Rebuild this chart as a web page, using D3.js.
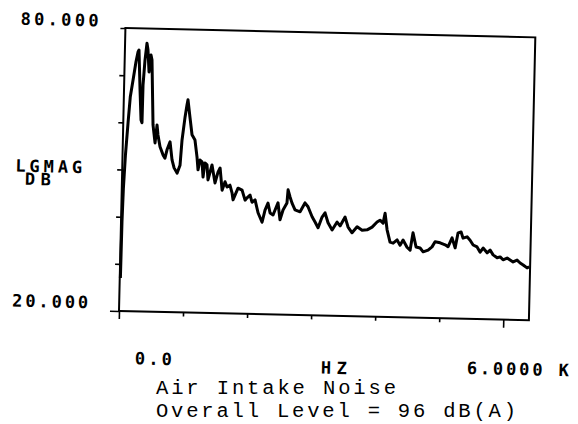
<!DOCTYPE html>
<html>
<head>
<meta charset="utf-8">
<script src="https://cdn.jsdelivr.net/npm/d3@7"></script>
<style>
  html, body { margin: 0; padding: 0; background: #fff; }
  svg { display: block; }
</style>
</head>
<body>
<script>
// ---- data ----
const freqHz = [10,15,25,45,75,100,137,177,205,220,250,276,292,295,317,342,360,384,409,426,465,503,528,546,582,632,663,692,737,774,809,857,901,923,962,988,1002,1040,1077,1125,1163,1183,1211,1243,1264,1289,1322,1342,1400,1453,1496,1527,1566,1609,1642,1687,1722,1740,1770,1814,1878,1928,1958,2004,2037,2084,2135,2201,2243,2287,2323,2370,2443,2480,2524,2583,2596,2629,2662,2711,2791,2864,2913,2980,3028,3077,3136,3181,3231,3297,3372,3420,3495,3545,3609,3686,3765,3843,3920,3996,4041,4090,4118,4155,4205,4254,4315,4363,4408,4472,4521,4561,4613,4677,4725,4802,4862,4908,4987,5066,5112,5172,5223,5264,5311,5343,5406,5454,5503,5565,5615,5660,5724,5770,5818,5882,5929,5975,6038,6085,6133,6194,6243,6291,6353,6385];
const levelDb = [27.0,39.0,46.0,53.0,60.0,65.4,69.0,72.9,75.0,75.4,67.0,60.6,60.0,68.0,73.3,76.9,75.5,70.8,74.4,73.4,59.6,55.8,59.6,57.5,55.0,53.3,52.6,54.4,56.1,52.3,50.6,49.5,51.2,56.5,61.4,64.0,65.1,61.3,57.7,56.6,53.0,50.3,52.4,52.0,48.8,51.8,51.4,48.2,51.4,47.6,49.9,50.8,46.1,47.9,46.8,47.2,45.6,44.1,45.1,46.6,46.2,44.1,44.6,45.2,43.7,44.2,41.5,39.5,42.1,43.6,41.5,41.1,43.7,40.1,42.2,43.7,46.5,45.0,43.7,42.3,41.9,43.8,43.0,40.9,39.8,38.6,40.9,41.8,39.7,38.2,39.9,39.1,41.0,38.9,37.7,39.0,38.3,38.4,39.0,40.1,40.5,39.9,42.0,38.5,35.9,35.7,36.4,35.3,36.4,34.9,34.3,38.0,35.0,34.8,34.0,34.4,35.1,36.2,36.0,35.6,35.2,37.1,35.0,38.2,38.4,37.1,37.4,36.7,35.7,35.3,34.2,35.1,34.1,34.7,33.7,33.1,33.3,32.7,33.1,32.7,32.3,32.7,32.1,31.7,31.1,31.3];

const yTicks = [20, 30, 40, 50, 60, 70, 80];
const xTicks = [0, 1000, 2000, 3000, 4000, 5000, 6000];
const xDomain = [0, 6400];
const yDomain = [20, 80];
const yTopLabel = "80.000";
const yBottomLabel = "20.000";
const yUnitLines = ["LGMAG", "DB"];
const xStartLabel = "0.0";
const xUnitLabel = "HZ";
const xStopLabel = "6.0000 K";
const captionLines = ["Air Intake Noise", "Overall Level = 96 dB(A)"];

// ---- layout ----
const W = 578, H = 424;
const svg = d3.select("body").append("svg").attr("width", W).attr("height", H);

const x = d3.scaleLinear().domain(xDomain).range([119, 529]);
const y = d3.scaleLinear().domain(yDomain).range([311, 28]);

const plotFont = "'DejaVu Sans Mono', monospace";
const plot = svg.append("g").attr("transform", `rotate(1.3, ${x(0)}, ${y(20)})`);

// frame
plot.append("rect")
  .attr("x", x(xDomain[0])).attr("y", y(yDomain[1]))
  .attr("width", x(xDomain[1]) - x(xDomain[0]))
  .attr("height", y(yDomain[0]) - y(yDomain[1]))
  .attr("fill", "none").attr("stroke", "#000").attr("stroke-width", 2);

// left ticks
const yAx = plot.append("g").attr("transform", `translate(${x(0)},0)`)
  .call(d3.axisLeft(y).tickValues(yTicks).tickSize(5).tickFormat(""));
yAx.select(".domain").remove();
yAx.selectAll(".tick line").attr("stroke", "#000").attr("stroke-width", 1.6)
  .attr("x2", d => d === yDomain[0] ? -9 : -5);

// bottom ticks
const xAx = plot.append("g").attr("transform", `translate(0,${y(20)})`)
  .call(d3.axisBottom(x).tickValues(xTicks).tickSize(4).tickFormat(""));
xAx.select(".domain").remove();
xAx.selectAll(".tick line").attr("stroke", "#000").attr("stroke-width", 1.6)
  .attr("y2", d => (d === xTicks[0] || d === xTicks[xTicks.length - 1]) ? 8 : 4);

// curve
const pts = freqHz.map((f, i) => [f, levelDb[i]]);
plot.append("path")
  .datum(pts)
  .attr("fill", "none").attr("stroke", "#000")
  .attr("stroke-width", 3).attr("stroke-linejoin", "round")
  .attr("d", d3.line().x(d => x(d[0])).y(d => y(d[1])));

// plotter labels
function plabel(txt, px, py, len) {
  plot.append("text").attr("x", px).attr("y", py)
    .attr("font-family", plotFont).attr("font-weight", "bold").attr("font-size", 17)
    .attr("textLength", len).attr("lengthAdjust", "spacing")
    .attr("fill", "#000").text(txt);
}
plabel(yTopLabel, x(0) - 105, y(80) - 1, 78);
plabel(yBottomLabel, x(0) - 107, y(20) - 2, 76);
plabel(yUnitLines[0], x(0) - 107, 174, 67);
plabel(yUnitLines[1], x(0) - 97, 187, 26);
plabel(xStartLabel, x(0) + 17, 364, 37);
plabel(xUnitLabel, 322, 369, 26);
plabel(xStopLabel, 468, 366, 102);

// caption (typed, not rotated)
const capLen = [240, 360];
svg.append("g").selectAll("text").data(captionLines).join("text")
  .attr("x", 156).attr("y", (d, i) => 394 + i * 23)
  .attr("font-family", "'Liberation Mono', monospace").attr("font-size", 20.5)
  .attr("textLength", (d, i) => capLen[i]).attr("lengthAdjust", "spacing")
  .attr("fill", "#000").text(d => d);
</script>
</body>
</html>
